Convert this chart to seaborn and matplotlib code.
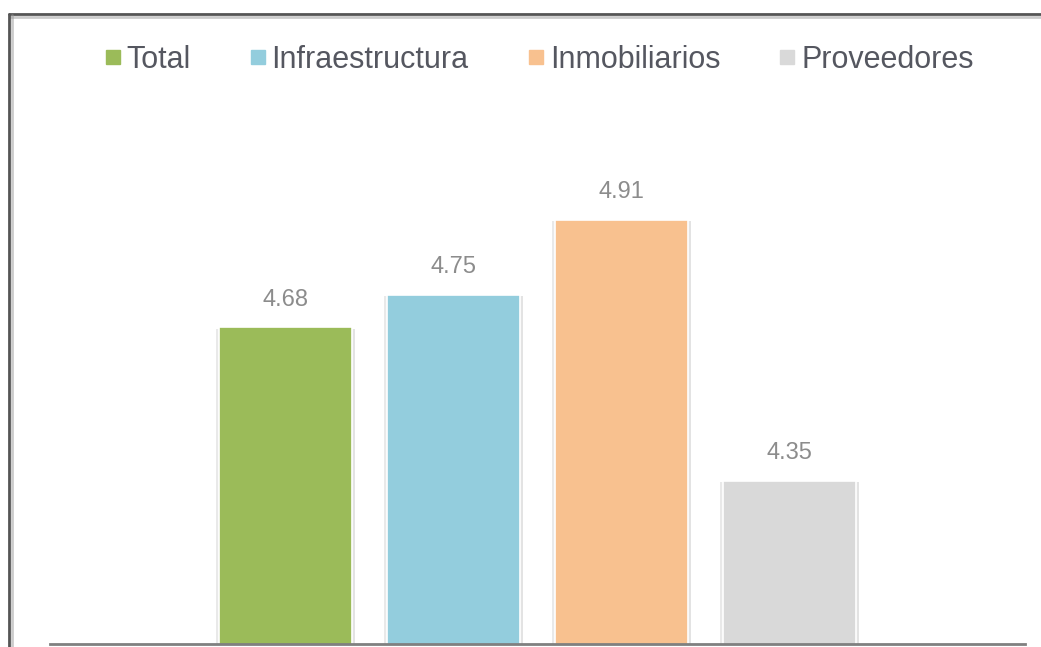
import matplotlib
matplotlib.use("Agg")
import matplotlib.pyplot as plt
import matplotlib.patheffects as pe
from matplotlib.lines import Line2D
import seaborn as sns
import pandas as pd

categories = ["Total", "Infraestructura", "Inmobiliarios", "Proveedores"]
values = [4.68, 4.75, 4.91, 4.35]
colors = ["#9BBB59", "#93CDDD", "#F8C18F", "#D9D9D9"]

df = pd.DataFrame({"sector": categories, "valor": values})

sns.set_theme(style="white")
plt.rcParams["font.family"] = ["Liberation Sans", "DejaVu Sans"]

W, H = 1041, 647
fig = plt.figure(figsize=(W / 100, H / 100), dpi=100)
ax = fig.add_axes([50 / W, 3 / H, 975 / W, 559 / H])

sns.barplot(data=df, x="sector", y="valor", hue="sector", palette=colors,
            saturation=1, width=0.79, dodge=False, legend=False, ax=ax,
            order=categories, hue_order=categories)

shadow = [pe.SimplePatchShadow(offset=(2, -1), shadow_rgbFace="#c8c8c8", alpha=0.5),
          pe.SimplePatchShadow(offset=(-2, -1), shadow_rgbFace="#c8c8c8", alpha=0.4),
          pe.Normal()]
for p, v in zip(ax.patches, values):
    p.set_edgecolor("white")
    p.set_linewidth(1.2)
    p.set_path_effects(shadow)
    ax.annotate(f"{v:.2f}", (p.get_x() + p.get_width() / 2, v),
                xytext=(0, 12), textcoords="offset points", ha="center", va="bottom",
                fontsize=17, color="#8C8C8C")

ax.set_ylim(4.0, 5.2)
ax.set_xlim(-1.4, 4.4)
ax.set_xlabel("")
ax.set_ylabel("")
ax.set_xticks([])
ax.set_yticks([])
for s in ["top", "right", "left"]:
    ax.spines[s].set_visible(False)
ax.spines["bottom"].set_color("#808080")
ax.spines["bottom"].set_linewidth(2)

handles = [Line2D([0], [0], marker="s", linestyle="", markersize=10,
                  markerfacecolor=c, markeredgecolor=c) for c in colors]
fig.legend(handles, categories, loc="center", bbox_to_anchor=(537 / W, 1 - 60 / H),
           ncol=4, frameon=False, fontsize=22, handletextpad=0.05, columnspacing=1.8,
           handlelength=0.8, labelcolor="#555760")

# outer frame along the top and left edges
fig.add_artist(Line2D([9 / W, 1.0], [1 - 14 / H, 1 - 14 / H], transform=fig.transFigure,
                      color="#555555", linewidth=2,
                      path_effects=[pe.SimpleLineShadow(offset=(1, -2), shadow_color="#999999", alpha=0.5), pe.Normal()]))
fig.add_artist(Line2D([9 / W, 9 / W], [0, 1 - 14 / H], transform=fig.transFigure,
                      color="#555555", linewidth=2,
                      path_effects=[pe.SimpleLineShadow(offset=(2, -1), shadow_color="#999999", alpha=0.5), pe.Normal()]))

fig.savefig("out.png", dpi=100)
